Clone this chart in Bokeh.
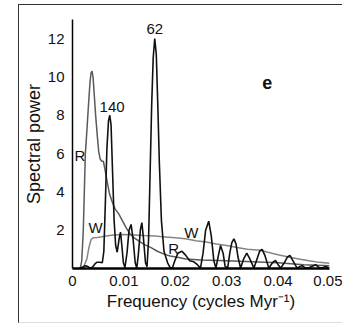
from bokeh.plotting import figure
from bokeh.models import FixedTicker, CustomJSTickFormatter, Label, Range1d
from bokeh.embed import file_html
from bokeh.resources import INLINE

# Black spectrum (with peaks at 140 and 62 Myr)
freq_black = [0.0015, 0.0020, 0.0025, 0.0030, 0.0035, 0.0040, 0.0044, 0.0048, 0.0053, 0.0058,
              0.0061, 0.0064, 0.0067, 0.0070, 0.00726, 0.0075, 0.0078, 0.0081, 0.0084, 0.0087,
              0.0091, 0.00934, 0.0096, 0.0099, 0.0102, 0.0106, 0.0110, 0.0114, 0.0118, 0.0122,
              0.0125, 0.0128, 0.0132, 0.01349, 0.0138, 0.0142, 0.0145, 0.0148, 0.0151, 0.0154,
              0.0157, 0.0160, 0.0163, 0.0166, 0.0169, 0.0173, 0.0178, 0.0185, 0.0190, 0.0194,
              0.0199, 0.0205, 0.0213, 0.0220, 0.0228, 0.0236, 0.0243, 0.0249, 0.0254, 0.0259,
              0.0265, 0.0270, 0.0275, 0.0279, 0.0284, 0.0288, 0.0293, 0.0297, 0.0302, 0.0306,
              0.0310, 0.0314, 0.0318, 0.0322, 0.0327, 0.0333, 0.0339, 0.0345, 0.0353, 0.0359,
              0.0364, 0.0369, 0.0374, 0.0382, 0.0389, 0.0395, 0.0400, 0.0405, 0.0412, 0.0418,
              0.0423, 0.0429, 0.0437, 0.0442, 0.0447, 0.0452, 0.0458, 0.0465, 0.0473, 0.0480,
              0.0485, 0.0492, 0.0498]
power_black = [0.0, 0.08, 0.15, 0.1, 0.02, 0.1, 0.25, 0.33, 0.33, 0.3,
               0.9, 3.5, 6.3, 7.7, 8.0, 7.5, 5.0, 2.5, 1.2, 0.85,
               1.6, 1.9, 1.2, 0.3, 0.05, 0.8, 2.0, 2.3, 1.5, 0.3,
               0.02, 0.7, 2.0, 2.4, 1.6, 0.3, 0.1, 1.5, 5.0, 8.5,
               11.0, 12.0, 11.2, 8.5, 5.5, 2.5, 0.9, 0.3, 0.05, 0.0,
               0.4, 0.8, 0.9, 0.7, 0.4, 0.35, 0.2, 0.02, 0.8, 2.0,
               2.47, 1.7, 0.4, 0.02, 0.7, 1.2, 0.8, 0.1, 0.05, 0.8,
               1.35, 1.55, 1.3, 0.6, 0.02, 0.5, 0.8, 0.5, 0.02, 0.5,
               0.9, 1.0, 0.7, 0.02, 0.3, 0.42, 0.2, 0.02, 0.3, 0.6,
               0.68, 0.4, 0.02, 0.1, 0.15, 0.05, 0.02, 0.1, 0.2, 0.05,
               0.02, 0.1, 0.05]

# R spectrum
freq_r = [0.0015, 0.0018, 0.0021, 0.0023, 0.0025, 0.0028, 0.0031, 0.0034, 0.0036, 0.0038,
          0.0040, 0.0042, 0.0045, 0.0048, 0.0051, 0.0054, 0.0057, 0.0060, 0.0063, 0.0067,
          0.0072, 0.0077, 0.0083, 0.0090, 0.0097, 0.0104, 0.0112, 0.0120, 0.0128, 0.0140,
          0.0152, 0.0165, 0.0178, 0.0190, 0.0202, 0.0220, 0.0250, 0.0300, 0.0350, 0.0400,
          0.0450, 0.0500]
power_r = [0.0, 0.4, 2.0, 4.0, 6.0, 7.2, 8.5, 9.7, 10.2, 10.3,
           10.0, 9.2, 8.0, 7.0, 6.1, 5.7, 5.6, 5.6, 5.2, 4.6,
           3.9, 3.5, 3.1, 2.85, 2.5, 2.15, 1.8, 1.6, 1.45, 1.25,
           1.1, 0.9, 0.75, 0.65, 0.6, 0.5, 0.45, 0.4, 0.35, 0.3,
           0.2, 0.15]

# W spectrum
freq_w = [0.0016, 0.0022, 0.0028, 0.0032, 0.0036, 0.0040, 0.0048, 0.0055, 0.0065, 0.0080,
          0.0100, 0.0120, 0.0140, 0.0160, 0.0180, 0.0200, 0.0220, 0.0240, 0.0260, 0.0280,
          0.0300, 0.0320, 0.0340, 0.0365, 0.0380, 0.0400, 0.0420, 0.0440, 0.0460, 0.0480,
          0.0500]
power_w = [0.0, 0.1, 0.5, 1.1, 1.5, 1.6, 1.62, 1.65, 1.7, 1.75,
           1.78, 1.75, 1.72, 1.7, 1.65, 1.6, 1.55, 1.45, 1.38, 1.28,
           1.2, 1.1, 1.0, 0.95, 0.85, 0.72, 0.6, 0.5, 0.4, 0.32,
           0.28]

x_ticks = [0, 0.01, 0.02, 0.03, 0.04, 0.05]
y_ticks = [2, 4, 6, 8, 10, 12]

FONT = "Liberation Sans"

p = figure(width=324, height=319, x_range=Range1d(0, 0.05), y_range=Range1d(0, 13),
           output_backend="svg", toolbar_location=None,
           min_border_left=53, min_border_right=14, min_border_top=14, min_border_bottom=56)
p.styles = {"margin-left": "18px", "margin-top": "4px",
            "border-top": "1px solid #333333", "border-left": "1px solid #333333",
            "border-bottom": "1px solid #dddddd"}
p.outline_line_color = None
p.grid.visible = False
p.background_fill_color = "white"
p.border_fill_color = "white"

p.line(freq_w, power_w, line_color="#858585", line_width=1.5)
p.line(freq_r, power_r, line_color="#5a5a5a", line_width=1.5)
p.line(freq_black, power_black, line_color="#111111", line_width=1.6)

p.xaxis.ticker = FixedTicker(ticks=x_ticks)
p.yaxis.ticker = FixedTicker(ticks=y_ticks)
p.xaxis.formatter = CustomJSTickFormatter(code="return tick == 0 ? '0' : tick.toFixed(2);")
for ax in (p.xaxis, p.yaxis):
    ax.major_tick_out = 0
    ax.major_tick_in = 0
    ax.minor_tick_out = 0
    ax.minor_tick_in = 0
    ax.axis_line_color = "black"
    ax.major_label_text_font = FONT
    ax.major_label_text_font_size = "15px"
    ax.major_label_text_color = "#111111"
    ax.axis_label_text_font = FONT
    ax.axis_label_text_font_style = "normal"
    ax.axis_label_text_color = "#111111"
p.xaxis.axis_line_width = 2.5
p.yaxis.axis_line_width = 1.5
p.xaxis.major_label_standoff = 7
p.yaxis.major_label_standoff = 8
p.xaxis.axis_label = "Frequency (cycles Myr\u207b\u00b9)"
p.yaxis.axis_label = "Spectral power"
p.xaxis.axis_label_text_font_size = "17px"
p.yaxis.axis_label_text_font_size = "18px"
p.xaxis.axis_label_standoff = 3
p.yaxis.axis_label_standoff = 1

def lab(x, y, t, align="center", base="middle", size="15px", style="normal"):
    p.add_layout(Label(x=x, y=y, text=t, text_align=align, text_baseline=base,
                       text_font=FONT, text_font_size=size, text_font_style=style,
                       text_color="#111111"))

lab(0.0077, 8.15, "140", base="bottom")
lab(0.0160, 12.25, "62", base="bottom")
lab(0.00142, 5.9, "R")
lab(0.0197, 1.03, "R")
lab(0.00447, 2.16, "W")
lab(0.0231, 1.9, "W")
lab(0.0379, 9.72, "e", size="18px", style="bold")

open("out.html", "w").write(file_html(p, INLINE))
